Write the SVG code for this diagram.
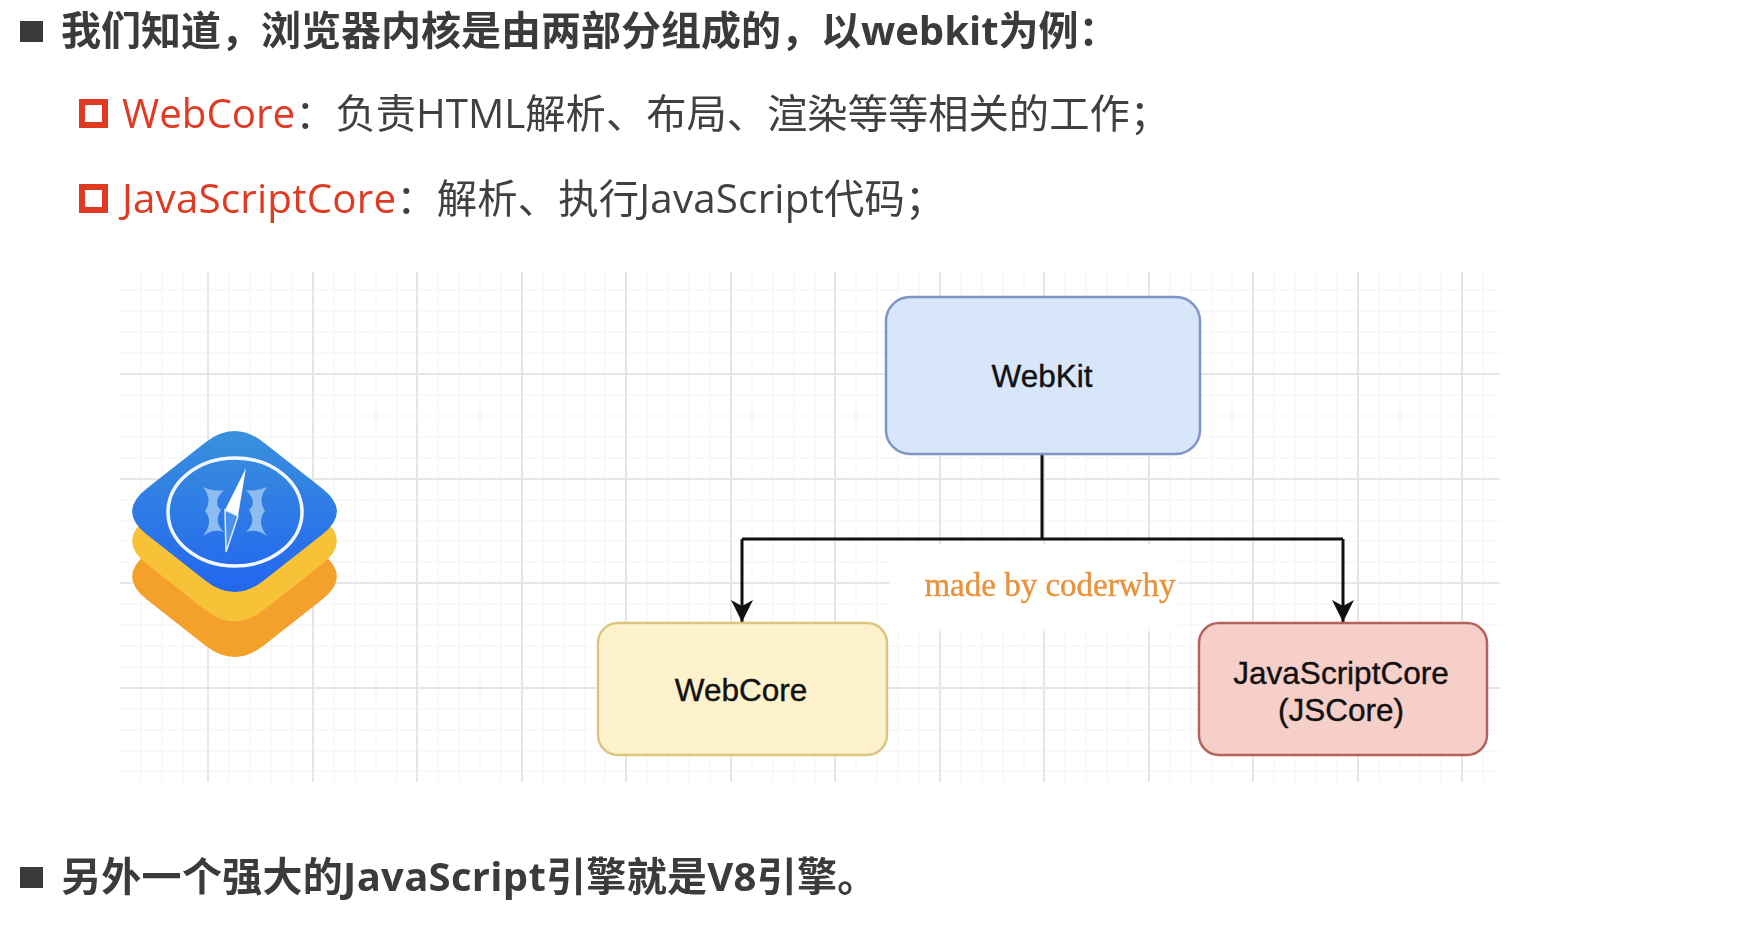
<svg xmlns="http://www.w3.org/2000/svg" width="1742" height="926" viewBox="0 0 1742 926">
<style>
.h{font-family:"Open Sans","Noto Sans CJK SC",sans-serif;font-size:40px;font-weight:700;fill:#3a3a3a}
.b{font-family:"Open Sans","Noto Sans CJK SC",sans-serif;font-size:40.3px;fill:#404040}
.r{fill:#e03a24}
.n{font-family:"Liberation Sans",Arial,sans-serif;font-size:31.5px;fill:#111;stroke:#111;stroke-width:.4;text-anchor:middle}
.box{stroke-width:2.5}
.mj{stroke:#e6e6e6;stroke-width:2;fill:none}
.mn{stroke:#f8f8f8;stroke-width:1.5;fill:none}
.c{stroke:#111;stroke-width:3;fill:none}
</style>
<defs>
<filter id="soft" x="-5%" y="-5%" width="110%" height="110%"><feGaussianBlur stdDeviation="0.6"/></filter>
<marker id="arr" markerWidth="26" markerHeight="26" refX="24" refY="13" orient="auto" markerUnits="userSpaceOnUse" viewBox="0 0 26 26"><path d="M2 2L8 13L2 24L24 13Z" fill="#111"/></marker>
<linearGradient id="blue" x1="0" y1="0" x2="0" y2="1"><stop offset="0" stop-color="#3a90dc"/><stop offset="1" stop-color="#2266f0"/></linearGradient>
<path id="dia" d="M-29.250 -69Q0 -92 29.250 -69L87.750 -23Q117 0 87.750 23L29.250 69Q0 92 -29.250 69L-87.750 23Q-117 0 -87.750 -23Z"/>
</defs>
<rect width="1742" height="926" fill="#fff"/>
<g id="grid" filter="url(#soft)">
<path class="mn" d="M141 272V782M162 272V782M183 272V782M229 272V782M250 272V782M271 272V782M292 272V782M334 272V782M355 272V782M376 272V782M397 272V782M438 272V782M459 272V782M480 272V782M501 272V782M543 272V782M564 272V782M585 272V782M605 272V782M647 272V782M668 272V782M689 272V782M710 272V782M752 272V782M773 272V782M794 272V782M815 272V782M856 272V782M877 272V782M898 272V782M919 272V782M961 272V782M982 272V782M1003 272V782M1024 272V782M1065 272V782M1086 272V782M1107 272V782M1128 272V782M1170 272V782M1191 272V782M1212 272V782M1232 272V782M1274 272V782M1295 272V782M1316 272V782M1337 272V782M1379 272V782M1400 272V782M1420 272V782M1441 272V782M1483 272V782"/>
<path class="mn" d="M120 290H1500M120 311H1500M120 332H1500M120 353H1500M120 395H1500M120 416H1500M120 437H1500M120 458H1500M120 500H1500M120 521H1500M120 541H1500M120 562H1500M120 604H1500M120 625H1500M120 646H1500M120 667H1500M120 709H1500M120 730H1500M120 751H1500M120 771H1500"/>
<path class="mj" d="M208 272V782M313 272V782M417 272V782M522 272V782M626 272V782M731 272V782M835 272V782M940 272V782M1044 272V782M1149 272V782M1253 272V782M1358 272V782M1462 272V782"/>
<path class="mj" d="M120 374H1500M120 479H1500M120 583H1500M120 688H1500"/>
</g>
<rect x="889" y="544" width="289" height="87" fill="#fff" opacity="0.92"/>
<g id="bullets">
<rect x="20" y="21" width="23" height="21" fill="#3a3a3a"/>
<rect x="82" y="102" width="23" height="23" fill="none" stroke="#e03a24" stroke-width="6"/>
<rect x="82" y="187" width="23" height="23" fill="none" stroke="#e03a24" stroke-width="6"/>
<rect x="20" y="867" width="23" height="21" fill="#3a3a3a"/>
</g>
<g id="text" filter="url(#soft)">
<text class="h" x="61" y="45">我们知道，浏览器内核是由两部分组成的，以webkit为例：</text>
<text class="b" x="122" y="128"><tspan class="r">WebCore</tspan>：负责HTML解析、布局、渲染等等相关的工作；</text>
<text class="b" x="122" y="213" letter-spacing=".2"><tspan class="r">JavaScriptCore</tspan>：解析、执行JavaScript代码；</text>
<text class="h" x="61" y="891" letter-spacing=".3">另外一个强大的JavaScript引擎就是V8引擎。</text>
</g>
<g id="icon">
<use href="#dia" x="234.500" y="576.500" fill="#f4a12c"/>
<use href="#dia" x="234.500" y="541" fill="#f7c238"/>
<use href="#dia" x="234.500" y="511.500" fill="url(#blue)"/>
<ellipse cx="235" cy="512" rx="67" ry="54" fill="none" stroke="#f2f8ff" stroke-width="3.500"/>
<path d="M203 487Q214 492 224 490Q212 502 221 510Q213 522 224 532Q214 528 203 536Q214 522 205 511Q213 500 203 487ZM267 487Q256 492 246 490Q258 502 249 510Q257 522 246 532Q256 528 267 536Q256 522 265 511Q257 500 267 487Z" fill="#8cbcf2"/>
<path d="M246 468L238 516L225 510Z" fill="#fff"/>
<path d="M225 510L238 516L226 552Z" fill="#4c90ec" stroke="#dcecff" stroke-width="1.500"/>
</g>
<g id="connectors">
<path class="c" d="M1042 454V539"/>
<path class="c" d="M742 539H1343"/>
<path class="c" d="M742 539V622" marker-end="url(#arr)"/>
<path class="c" d="M1343 539V622" marker-end="url(#arr)"/>
</g>
<g id="webkit">
<rect class="box" x="886" y="297" width="314" height="157" rx="24" fill="#d8e6fc" stroke="#7f95c4"/>
<text class="n" x="1042" y="387">WebKit</text>
</g>
<g id="webcore">
<rect class="box" x="598" y="623" width="289" height="132" rx="20" fill="#fdf2cc" stroke="#dcc67e"/>
<text class="n" x="741" y="701">WebCore</text>
</g>
<g id="jscore">
<rect class="box" x="1199" y="623" width="288" height="132" rx="20" fill="#f7cfc9" stroke="#b5625c"/>
<text class="n" x="1341" y="684">JavaScriptCore</text>
<text class="n" x="1341" y="721">(JSCore)</text>
</g>
<text x="1050" y="596" font-family="Liberation Serif,serif" font-size="33" fill="#e8923c" stroke="#e8923c" stroke-width=".4" text-anchor="middle" filter="url(#soft)">made by coderwhy</text>
</svg>
